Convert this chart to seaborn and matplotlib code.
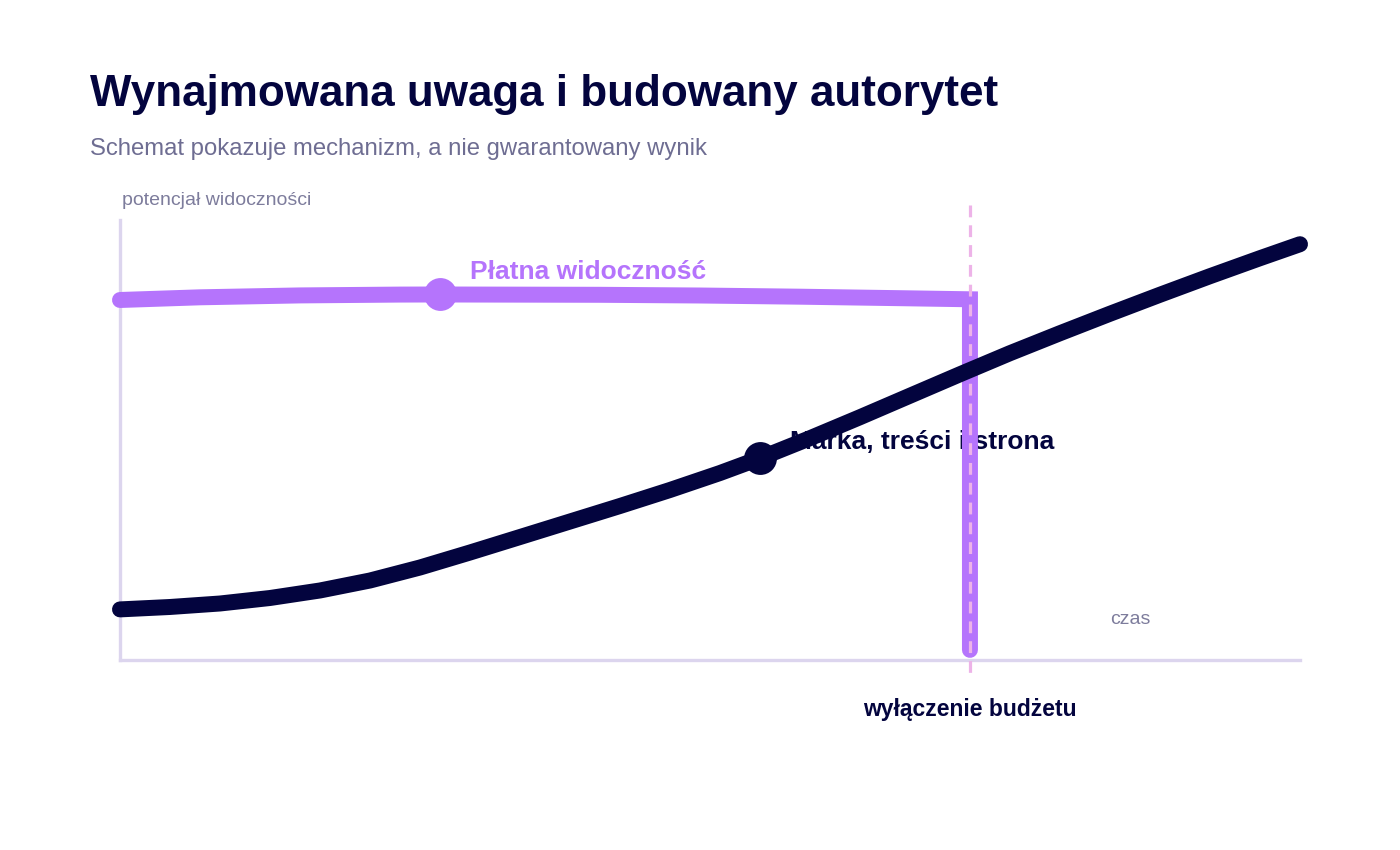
import matplotlib
matplotlib.use("Agg")
import matplotlib.pyplot as plt
import seaborn as sns
import pandas as pd

# ---- data (schematic, x = time 0..100, y = visibility potential 0..100) ----
brand_x = [0, 4.24, 8.47, 12.71, 16.95, 21.19, 25.42, 29.66, 33.90, 38.14, 42.37,
           46.61, 50.85, 54.24, 58.47, 62.71, 66.95, 71.19, 75.42, 79.66, 83.90,
           88.14, 92.37, 96.61, 100]
brand_y = [11.5, 12.05, 12.84, 14.09, 15.80, 18.07, 21.02, 24.43, 27.95, 31.48, 35.00,
           38.64, 42.50, 45.86, 50.41, 55.18, 60.07, 64.95, 69.73, 74.27, 78.70,
           83.02, 87.23, 91.32, 94.50]

paid_x = [0, 6.78, 15.25, 23.73, 27.12, 40.68, 49.15, 57.63, 66.10, 72.03, 72.03]
paid_y = [81.82, 82.43, 82.86, 83.05, 83.07, 83.0, 82.84, 82.57, 82.23, 81.98, 2.3]

paid_marker = (27.12, 83.07)
brand_marker = (54.24, 45.8)
budget_off_x = 72.03

title = "Wynajmowana uwaga i budowany autorytet"
subtitle = "Schemat pokazuje mechanizm, a nie gwarantowany wynik"
y_label = "potencjał widoczności"
x_label = "czas"
paid_label = "Płatna widoczność"
brand_label = "Marka, treści i strona"
budget_label = "wyłączenie budżetu"

NAVY = "#03043E"
PURPLE = "#B574FC"
AXIS = "#DCD5EE"
PINK = "#EDB3E8"
SUB = "#6E6D92"
SMALL = "#7D7C9C"

sns.set_theme(style="white")
plt.rcParams["font.family"] = ["Liberation Sans", "DejaVu Sans"]

fig = plt.figure(figsize=(14, 8.5), dpi=100)
ax = fig.add_axes([120 / 1400, (850 - 660) / 850, 1180 / 1400, 440 / 850])
ax.set_xlim(0, 100)
ax.set_ylim(0, 100)
ax.set_xticks([])
ax.set_yticks([])
for s in ["top", "right"]:
    ax.spines[s].set_visible(False)
for s in ["left", "bottom"]:
    ax.spines[s].set_color(AXIS)
    ax.spines[s].set_linewidth(2.4)
ax.set_facecolor("white")

df_paid = pd.DataFrame({"x": paid_x, "y": paid_y})
sns.lineplot(data=df_paid, x="x", y="y", estimator=None, sort=False, ax=ax,
             color=PURPLE, lw=11.5, zorder=3)
df_brand = pd.DataFrame({"x": brand_x, "y": brand_y})
sns.lineplot(data=df_brand, x="x", y="y", estimator=None, sort=False, ax=ax,
             color=NAVY, lw=11.5, zorder=5)
for ln in ax.lines:
    ln.set_solid_capstyle("round")
    ln.set_solid_joinstyle("miter")
    ln.set_clip_on(False)

# dashed budget-off line
ax.plot([budget_off_x, budget_off_x], [103.4, -4.5], color=PINK, lw=2.3,
        dashes=(3.7, 2.5), clip_on=False, zorder=4)

ax.scatter([paid_marker[0]], [paid_marker[1]], s=560, color=PURPLE, zorder=3.5,
           linewidths=0, clip_on=False)
ax.scatter([brand_marker[0]], [brand_marker[1]], s=560, color=NAVY, zorder=5.5,
           linewidths=0, clip_on=False)

# labels in the plot
ax.text(29.66, 86.5, paid_label, color=PURPLE, fontsize=19, fontweight="bold",
        ha="left", va="baseline", zorder=2)
ax.text(56.8, 47.9, brand_label, color=NAVY, fontsize=19, fontweight="bold",
        ha="left", va="baseline", zorder=2)
ax.text(0.17, 103.4, y_label, color=SMALL, fontsize=14, ha="left", va="baseline")
ax.text(83.9, 8.2, x_label, color=SMALL, fontsize=14, ha="left", va="baseline")
ax.text(budget_off_x, -12.7, budget_label, color=NAVY, fontsize=16.5,
        fontweight="bold", ha="center", va="baseline")

fig.text(90 / 1400, 1 - 106 / 850, title, color=NAVY, fontsize=31.7,
         fontweight="bold", ha="left", va="baseline")
fig.text(90 / 1400, 1 - 155 / 850, subtitle, color=SUB, fontsize=17.2,
         ha="left", va="baseline")

fig.savefig("out.png", dpi=100, facecolor="white")
